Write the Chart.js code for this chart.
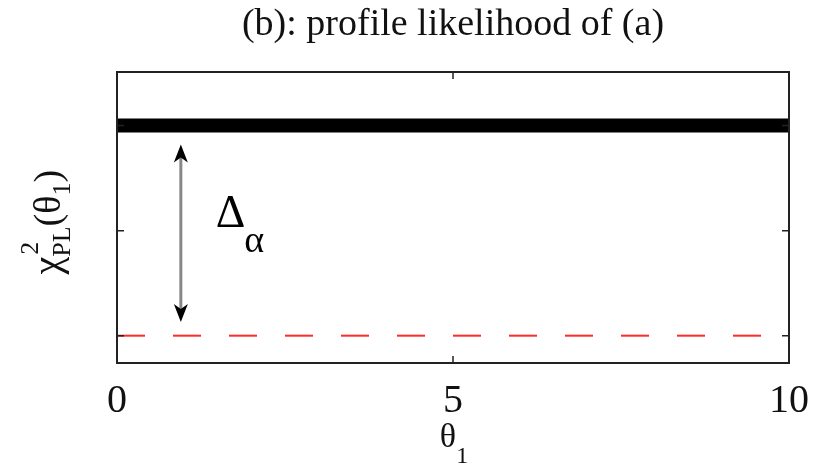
<!DOCTYPE html>
<html>
<head>
<meta charset="utf-8">
<script src="https://cdn.jsdelivr.net/npm/chart.js@4"></script>
<style>
  html, body { margin: 0; background: #fff; }
  #wrap { width: 813px; height: 468px; }
</style>
</head>
<body>
<div id="wrap"><canvas id="profileChart"></canvas></div>
<script>
// profile likelihood: flat curve vs. threshold level
const thetaRange = [0, 10];
const profileLevel = [2, 2];
const thresholdLevel = [0, 0];
const xTicks = [0, 5, 10];
const yTicks = [0, 1, 2];
const yRange = [-0.26, 2.51];
// double arrow marking Delta_alpha
const arrowX = 0.95;
const arrowEnds = [1.82, 0.13];
const deltaAt = [1.47, 1.03];
const titleText = "(b): profile likelihood of (a)";

const SERIF = "'Liberation Serif', 'DejaVu Serif', serif";

function line(ys) {
  return thetaRange.map((t, i) => ({ x: t, y: ys[i] }));
}

function arrowHead(ctx, x, y, dir) {
  // dir = -1 points up, 1 points down
  const len = 18, half = 7, notch = 5;
  ctx.beginPath();
  ctx.moveTo(x, y);
  ctx.lineTo(x - half, y - dir * len);
  ctx.lineTo(x, y - dir * (len - notch));
  ctx.lineTo(x + half, y - dir * len);
  ctx.closePath();
  ctx.fill();
}

const decorations = {
  id: "decorations",
  afterDraw(chart) {
    const { ctx, chartArea: a, scales: { x, y } } = chart;
    const cx = (a.left + a.right) / 2;
    ctx.save();

    // title, centred over the axes
    ctx.fillStyle = "#111";
    ctx.textAlign = "center";
    ctx.textBaseline = "alphabetic";
    ctx.font = "38px " + SERIF;
    ctx.fillText(titleText, cx, 35);

    // axes box with inward ticks
    ctx.strokeStyle = "#222";
    ctx.lineWidth = 2;
    ctx.strokeRect(a.left, a.top, a.right - a.left, a.bottom - a.top);
    ctx.lineWidth = 1.5;
    ctx.beginPath();
    xTicks.forEach(v => {
      const px = x.getPixelForValue(v);
      ctx.moveTo(px, a.bottom); ctx.lineTo(px, a.bottom - 7);
      ctx.moveTo(px, a.top); ctx.lineTo(px, a.top + 7);
    });
    yTicks.forEach(v => {
      const py = y.getPixelForValue(v);
      ctx.moveTo(a.left, py); ctx.lineTo(a.left + 7, py);
      ctx.moveTo(a.right, py); ctx.lineTo(a.right - 7, py);
    });
    ctx.stroke();

    // arrow
    const ax = x.getPixelForValue(arrowX);
    const y1 = y.getPixelForValue(arrowEnds[0]);
    const y2 = y.getPixelForValue(arrowEnds[1]);
    ctx.strokeStyle = "#888";
    ctx.lineWidth = 3;
    ctx.beginPath();
    ctx.moveTo(ax, y1 + 12);
    ctx.lineTo(ax, y2 - 12);
    ctx.stroke();
    ctx.fillStyle = "#000";
    arrowHead(ctx, ax, y1, -1);
    arrowHead(ctx, ax, y2, 1);

    // Delta_alpha label
    const dx = x.getPixelForValue(deltaAt[0]);
    const dy = y.getPixelForValue(deltaAt[1]);
    ctx.fillStyle = "#000";
    ctx.textAlign = "left";
    ctx.font = "46px " + SERIF;
    ctx.fillText("Δ", dx, dy);
    const dw = ctx.measureText("Δ").width;
    ctx.font = "38px " + SERIF;
    ctx.fillText("α", dx + dw - 1, dy + 25);

    // x axis title: theta_1
    ctx.fillStyle = "#111";
    ctx.font = "34px " + SERIF;
    const tw = ctx.measureText("θ").width;
    ctx.fillText("θ", cx - tw / 2 - 5, 447);
    ctx.font = "24px " + SERIF;
    ctx.fillText("1", cx + tw / 2 - 5, 463);

    // y axis title: chi^2_PL(theta_1), rotated
    ctx.translate(60, (a.top + a.bottom) / 2 - 3);
    ctx.rotate(-Math.PI / 2);
    let px = -60;
    ctx.font = "40px " + SERIF;
    ctx.fillText("χ", px, 0);
    px += ctx.measureText("χ").width;
    ctx.font = "26px " + SERIF;
    ctx.fillText("2", px + 2, -22);
    ctx.fillText("PL", px, 10);
    px += ctx.measureText("PL").width;
    ctx.font = "38px " + SERIF;
    ctx.fillText("(θ", px, 0);
    px += ctx.measureText("(θ").width;
    ctx.font = "26px " + SERIF;
    ctx.fillText("1", px, 10);
    px += ctx.measureText("1").width;
    ctx.font = "38px " + SERIF;
    ctx.fillText(")", px, 0);

    ctx.restore();
  }
};

new Chart(document.getElementById("profileChart"), {
  type: "line",
  data: {
    datasets: [
      {
        data: line(profileLevel),
        borderColor: "#000",
        borderWidth: 14,
        pointRadius: 0,
        borderCapStyle: "butt"
      },
      {
        data: line(thresholdLevel),
        borderColor: "#ff2a2a",
        borderWidth: 2,
        borderDash: [28, 28],
        pointRadius: 0
      }
    ]
  },
  options: {
    responsive: true,
    maintainAspectRatio: false,
    animation: false,
    layout: { padding: { left: 0, right: 24, top: 72, bottom: 0 } },
    plugins: {
      legend: { display: false },
      tooltip: { enabled: false },
      title: { display: false }
    },
    scales: {
      x: {
        type: "linear",
        min: thetaRange[0],
        max: thetaRange[1],
        afterBuildTicks: s => { s.ticks = xTicks.map(v => ({ value: v })); },
        grid: { display: false },
        border: { display: false },
        ticks: {
          color: "#111",
          font: { family: SERIF, size: 40 },
          padding: 6,
          maxRotation: 0,
          autoSkip: false
        },
        afterFit: s => { s.height = 105; s.paddingLeft = 0; s.paddingRight = 0; }
      },
      y: {
        min: yRange[0],
        max: yRange[1],
        afterBuildTicks: s => { s.ticks = yTicks.map(v => ({ value: v })); },
        grid: { display: false },
        border: { display: false },
        ticks: { display: false },
        afterFit: s => { s.width = 117; }
      }
    }
  },
  plugins: [decorations]
});
</script>
</body>
</html>
